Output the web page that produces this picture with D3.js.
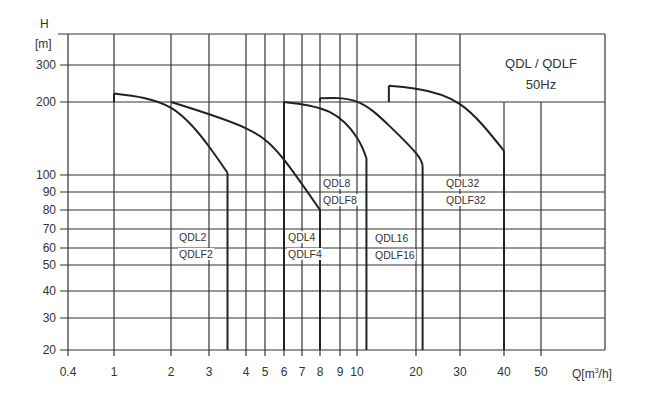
<!DOCTYPE html>
<html><head><meta charset="utf-8">
<script src="https://cdn.jsdelivr.net/npm/d3@7"></script>
<style>body{margin:0;background:#fff}text{font-family:"Liberation Sans",Arial,sans-serif;fill:#333}</style>
</head><body><svg id="c" width="660" height="402"></svg>
<script>
const xTicks=[0.4,1,2,3,4,5,6,7,8,9,10,20,30,40,50];
const yTicks=[20,30,40,50,60,70,80,90,100,200,300];
const qdl2=[[1,200],[1,223],[2,192],[3,139],[3.5,103],[3.5,20]];
const qdl4=[[2,200],[4,164],[6,121],[8,80],[8,20]];
const qdl8=[[6,20],[6,200],[8.5,186],[10,151],[11.6,123],[11.6,20]];
const qdl16=[[8,200],[8,210],[10,201],[15.4,168],[20,130],[21.5,113],[21.5,20]];
const qdl32=[[15.4,200],[15.4,244],[20,236],[30,197],[40,133],[40,20]];
const labels=[["QDL2","QDLF2",179,241],["QDL4","QDLF4",288,241],["QDL8","QDLF8",323,187],["QDL16","QDLF16",375,242],["QDL32","QDLF32",446,187]];
const svg=d3.select("#c");
const x=d3.scaleLinear().domain([0.4,1,2,3,4,5,6,7,8,9,10,20,30,40,50,70]).range([68,114,171,209,246,265,284,302,320,340,357,416,460,504,541,605]);
const y=d3.scaleLinear().domain([20,30,40,50,60,70,80,90,100,200,300,400]).range([350,318,291,265,248,229,210,192,175,102,65,34]);
const R=605,T=34,B=350,st="#333";
const g=svg.append("g");
yTicks.forEach(v=>{const x2=v===300?460:R;g.append("line").attr("x1",60).attr("x2",x2).attr("y1",y(v)).attr("y2",y(v)).attr("stroke",st).attr("stroke-width",1.2);});
g.append("line").attr("x1",58).attr("x2",R).attr("y1",T).attr("y2",T).attr("stroke",st).attr("stroke-width",1.2);
xTicks.forEach(v=>{const y1=(v===40||v===50)?y(200):T;g.append("line").attr("x1",x(v)).attr("x2",x(v)).attr("y1",y1).attr("y2",B+6).attr("stroke",st).attr("stroke-width",1.2);});
g.append("line").attr("x1",R).attr("x2",R).attr("y1",T).attr("y2",B).attr("stroke",st).attr("stroke-width",1.2);
svg.append("text").attr("x",541).attr("y",68).attr("text-anchor","middle").attr("font-size",13).text("QDL / QDLF");
svg.append("text").attr("x",541).attr("y",89).attr("text-anchor","middle").attr("font-size",13).text("50Hz");
const line=d3.line().x(d=>x(d[0])).y(d=>y(d[1])).curve(d3.curveNatural);
const lineV=d3.line().x(d=>x(d[0])).y(d=>y(d[1]));
[qdl2,qdl4,qdl8,qdl16,qdl32].forEach(s=>{
  const n=s.length;
  const headV=s[1][0]===s[0][0], tailV=s[n-2][0]===s[n-1][0];
  const mid=s.slice(headV?1:0, tailV?n-1:n);
  const p=svg.append("g").attr("fill","none").attr("stroke","#222").attr("stroke-width",2);
  if(headV)p.append("path").attr("d",lineV([s[0],s[1]]));
  p.append("path").attr("d",line(mid));
  if(tailV)p.append("path").attr("d",lineV([s[n-2],s[n-1]]));
});
labels.forEach(([a,b,lx,ly])=>{
  [[a,ly],[b,ly+17]].forEach(([t,yy])=>{
    const tx=svg.append("text").attr("x",lx).attr("y",yy).attr("font-size",10.5).text(t);
    const bb=tx.node().getBBox();
    svg.insert("rect","text:last-of-type").attr("x",bb.x-1).attr("y",bb.y).attr("width",bb.width+2).attr("height",bb.height).attr("fill","#fff");
    tx.raise();
  });
});
xTicks.forEach(v=>svg.append("text").attr("x",x(v)).attr("y",376).attr("text-anchor","middle").attr("font-size",12).text(v));
yTicks.forEach(v=>svg.append("text").attr("x",56).attr("y",y(v)+4).attr("text-anchor","end").attr("font-size",12).text(v));
svg.append("text").attr("x",40).attr("y",28).attr("font-size",12).text("H");
svg.append("text").attr("x",35).attr("y",48).attr("font-size",12).text("[m]");
const q=svg.append("text").attr("x",572).attr("y",378).attr("font-size",12);
q.append("tspan").text("Q[m");q.append("tspan").attr("font-size",7).attr("dy",-5).text("3");q.append("tspan").attr("dy",5).text("/h]");
</script></body></html>
